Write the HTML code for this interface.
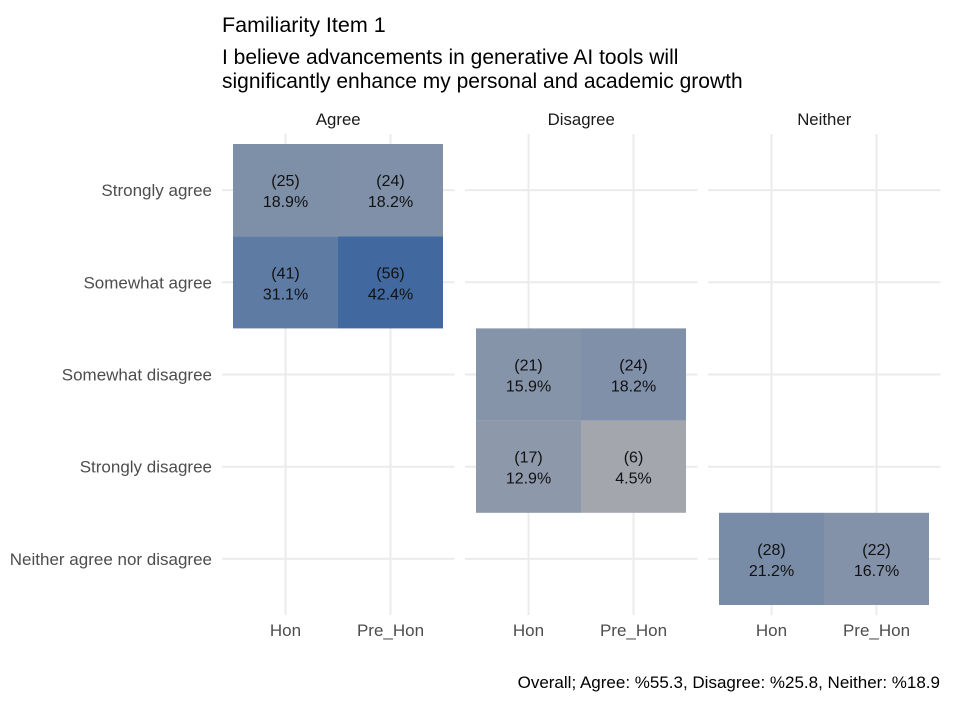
<!DOCTYPE html>
<html><head><meta charset="utf-8"><style>
body{margin:0;background:#fff;}
svg{font-family:"Liberation Sans",sans-serif;display:block}
</style></head><body>
<svg id="c" width="966" height="701">
<text x="222" y="32" font-size="21.5" fill="#000">Familiarity Item 1</text>
<text x="222" y="64" font-size="21" fill="#000">I believe advancements in generative AI tools will</text>
<text x="222" y="88" font-size="21" fill="#000">significantly enhance my personal and academic growth</text>
<text x="940" y="688" font-size="17" text-anchor="end" fill="#000">Overall; Agree: %55.3, Disagree: %25.8, Neither: %18.9</text>
<g id="g"></g>
</svg>
<script>
const panels=["Agree","Disagree","Neither"];
const rows=["Strongly agree","Somewhat agree","Somewhat disagree","Strongly disagree","Neither agree nor disagree"];
const groups=["Hon","Pre_Hon"];
const cellPanel=["Agree","Agree","Agree","Agree","Disagree","Disagree","Disagree","Disagree","Neither","Neither"];
const cellRow=["Strongly agree","Strongly agree","Somewhat agree","Somewhat agree","Somewhat disagree","Somewhat disagree","Strongly disagree","Strongly disagree","Neither agree nor disagree","Neither agree nor disagree"];
const cellGroup=["Hon","Pre_Hon","Hon","Pre_Hon","Hon","Pre_Hon","Hon","Pre_Hon","Hon","Pre_Hon"];
const counts=[25,24,41,56,21,24,17,6,28,22];
const pcts=[18.9,18.2,31.1,42.4,15.9,18.2,12.9,4.5,21.2,16.7];

const NS="http://www.w3.org/2000/svg",g=document.getElementById('g');
const pX0=222,pW=232.5,pGap=10.5,topY=144,rowH=92.2,colW=105;
function px(p){return pX0+panels.indexOf(p)*(pW+pGap);}
function cx(p,gr){return px(p)+11+colW/2+groups.indexOf(gr)*colW;}
function cy(r){return topY+rowH/2+rows.indexOf(r)*rowH;}
function col(v){const t=Math.max(0,Math.min(1,(v-4.5)/(42.4-4.5)));
 const a=[163,166,173],b=[65,105,160];return `rgb(${a.map((x,i)=>Math.round(x+(b[i]-x)*t)).join(',')})`;}
function el(t,at,txt){const e=document.createElementNS(NS,t);for(const k in at)e.setAttribute(k,at[k]);if(txt!==undefined)e.textContent=txt;g.appendChild(e);return e;}
panels.forEach(p=>{
 const x0=px(p);
 rows.forEach(r=>{const l=el('line',{x1:x0,x2:x0+pW,y1:cy(r),y2:cy(r),stroke:'#ebebeb','stroke-width':2});
  
  });
 groups.forEach(gr=>{const l=el('line',{x1:cx(p,gr),x2:cx(p,gr),y1:topY-10,y2:topY+5*rowH+10,stroke:'#ebebeb','stroke-width':2});
  
  
  const t=el('text',{x:cx(p,gr),y:636,'font-size':17,'text-anchor':'middle',fill:'#4d4d4d'},gr);
  
  });
 const s=el('text',{x:x0+pW/2,y:125,'font-size':16.8,'text-anchor':'middle',fill:'#1a1a1a'},p);
 
 
});
rows.forEach(r=>{const t=el('text',{x:212,y:cy(r)+6,'font-size':17,'text-anchor':'end',fill:'#4d4d4d'},r);
 
 });
counts.forEach((c,i)=>{
 const x=cx(cellPanel[i],cellGroup[i]),y=cy(cellRow[i]);
 const rc=el('rect',{x:x-colW/2,y:y-rowH/2,width:colW,height:rowH,fill:col(pcts[i])});
 
 
 const t1=el('text',{x:x,y:y-4,'font-size':16,'text-anchor':'middle',fill:'#111'},'('+c+')');
 
 
 const t2=el('text',{x:x,y:y+17,'font-size':16,'text-anchor':'middle',fill:'#111'},pcts[i].toFixed(1)+'%');
 
 
});
</script>
</body></html>
